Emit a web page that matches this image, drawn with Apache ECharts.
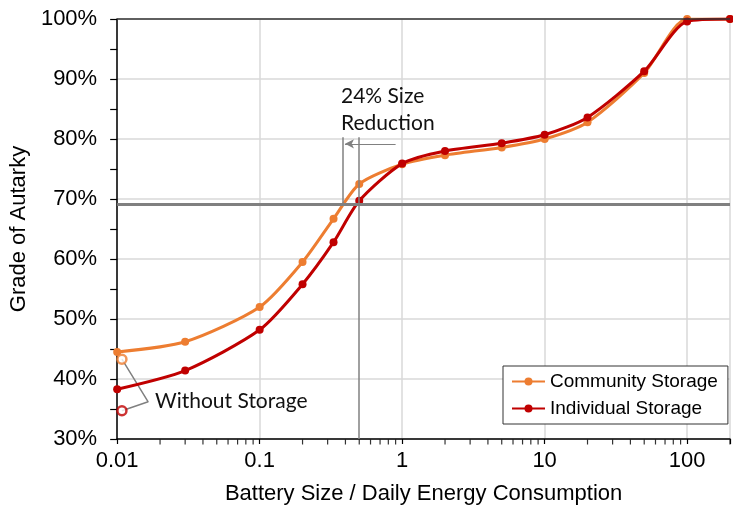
<!DOCTYPE html>
<html><head><meta charset="utf-8">
<script src="https://cdn.jsdelivr.net/npm/echarts@6/dist/echarts.min.js"></script>
<style>html,body{margin:0;padding:0;background:#fff}#c{width:733px;height:510px}</style>
</head><body><div id="c"></div>
<script>
// ---- data ----
const xValues = [0.01, 0.03, 0.1, 0.2, 0.33, 0.5, 1, 2, 5, 10, 20, 50, 100, 200];
const community = [44.5, 46.2, 52.0, 59.5, 66.7, 72.5, 75.8, 77.3, 78.6, 80.0, 82.8, 91.0, 100, 100];
const individual = [38.3, 41.4, 48.2, 55.8, 62.8, 69.7, 75.9, 78.0, 79.3, 80.7, 83.6, 91.3, 99.6, 100];
const withoutStorageX = 0.0108;
const withoutStorageCommunity = 43.3;
const withoutStorageIndividual = 34.7;
const xTickLabels = [0.01, 0.1, 1, 10, 100];
const xTickTexts = ['0.01', '0.1', '1', '10', '100'];
const yTickLabels = [30, 40, 50, 60, 70, 80, 90, 100];
const xMinorTicks = [0.02,0.03,0.04,0.05,0.06,0.07,0.08,0.09,0.2,0.3,0.4,0.5,0.6,0.7,0.8,0.9,2,3,4,5,6,7,8,9,20,30,40,50,60,70,80,90,200];
const targetAutarky = 69.2;
const individualSize = 0.5;
const communitySize = 0.38;
const bracketTop = 80.3;
const arrowY = 79.2;
const arrowFrom = 0.9;
const arrowTo = 0.397;
const leaderKnee = [0.0165, 36.2];

const COLORS = { community: '#ED7D31', individual: '#C00000', ref: '#808080' };

const chart = echarts.init(document.getElementById('c'), null, { renderer: 'canvas' });
const axisFont = '"Liberation Sans", Arial, sans-serif';

function xLabel(v) {
  for (let i = 0; i < xTickLabels.length; i++) {
    if (Math.abs(Math.log10(v) - Math.log10(xTickLabels[i])) < 1e-6) return xTickTexts[i];
  }
  return '';
}

chart.setOption({
  animation: false,
  backgroundColor: '#fff',
  grid: { left: 117, right: 0, top: 19, bottom: 71, containLabel: false },
  xAxis: {
    type: 'log', logBase: 10, min: 0.01, max: 200,
    name: 'Battery Size / Daily Energy Consumption',
    nameLocation: 'middle', nameGap: 44,
    nameTextStyle: { fontSize: 22, color: '#000', fontFamily: axisFont },
    axisLine: { show: true, onZero: false, lineStyle: { color: '#000', width: 1.5 } },
    axisTick: { show: true, length: 5, lineStyle: { color: '#000', width: 1.2 } },
    axisLabel: { fontSize: 22, color: '#000', fontFamily: axisFont, margin: 11, formatter: xLabel },
    splitLine: { show: true, lineStyle: { color: '#d9d9d9', width: 1.5 } },
    minorTick: { show: false }
  },
  yAxis: {
    type: 'value', min: yTickLabels[0], max: yTickLabels[yTickLabels.length - 1], interval: 10,
    name: 'Grade of Autarky', nameLocation: 'middle', nameGap: 82,
    nameTextStyle: { fontSize: 22, color: '#000', fontFamily: axisFont },
    axisLine: { show: true, lineStyle: { color: '#000', width: 1.5 } },
    axisTick: { show: true, length: 7, lineStyle: { color: '#000', width: 1.2 } },
    minorTick: { show: true, splitNumber: 2, length: 7, lineStyle: { color: '#000', width: 1.2 } },
    axisLabel: { fontSize: 22, color: '#000', fontFamily: axisFont, margin: 20, formatter: '{value}%' },
    splitLine: { show: true, lineStyle: { color: '#d9d9d9', width: 1.5 } }
  },
  legend: {
    data: ['Community Storage', 'Individual Storage'],
    orient: 'vertical', left: 503, top: 366,
    backgroundColor: '#fff', borderColor: '#333', borderWidth: 1, borderRadius: 0,
    padding: [6, 10, 6, 8], itemWidth: 33, itemHeight: 10, itemGap: 8,
    textStyle: { fontSize: 19, color: '#000', fontFamily: axisFont }
  },
  series: [
    {
      name: 'refLines', type: 'line', silent: true, z: 1,
      data: [[withoutStorageX, withoutStorageCommunity], leaderKnee, [withoutStorageX, withoutStorageIndividual]],
      symbol: 'none', lineStyle: { color: COLORS.ref, width: 1.5 },
      markLine: {
        silent: true, symbol: ['none', 'none'], animation: false,
        label: { show: false },
        data: [
          { yAxis: targetAutarky, lineStyle: { color: COLORS.ref, width: 3, type: 'solid' } },
          { yAxis: 100, lineStyle: { color: '#333', width: 1.5, type: 'solid' } },
          [{ coord: [individualSize, bracketTop], lineStyle: { color: COLORS.ref, width: 1.5, type: 'solid' } }, { coord: [individualSize, yTickLabels[0]] }],
          [{ coord: [communitySize, bracketTop], lineStyle: { color: COLORS.ref, width: 1.5, type: 'solid' } }, { coord: [communitySize, targetAutarky] }],
          [{ coord: [arrowTo, arrowY], symbol: 'arrow', symbolSize: [7, 9], lineStyle: { color: COLORS.ref, width: 1.2, type: 'solid' } }, { coord: [arrowFrom, arrowY], symbol: 'none' }]
        ]
      }
    },
    {
      name: 'Community Storage', type: 'line', z: 3,
      data: xValues.map((x, i) => [x, community[i]]),
      smooth: 0.25, symbol: 'circle', symbolSize: 8,
      lineStyle: { color: COLORS.community, width: 3 },
      itemStyle: { color: COLORS.community }
    },
    {
      name: 'Individual Storage', type: 'line', z: 4,
      data: xValues.map((x, i) => [x, individual[i]]),
      smooth: 0.25, symbol: 'circle', symbolSize: 8,
      lineStyle: { color: COLORS.individual, width: 3 },
      itemStyle: { color: COLORS.individual }
    },
    {
      name: 'withoutStorage', type: 'scatter', z: 5, silent: true,
      symbol: 'circle', symbolSize: 9,
      data: [
        { value: [withoutStorageX, withoutStorageCommunity], itemStyle: { color: '#fff', borderColor: COLORS.community, borderWidth: 2.5 } },
        { value: [withoutStorageX, withoutStorageIndividual], itemStyle: { color: '#fff', borderColor: COLORS.individual, borderWidth: 2.5 } }
      ]
    },
    {
      name: 'xMinorTicks', type: 'scatter', z: 6, silent: true, clip: false,
      symbol: 'rect', symbolSize: [1.2, 5], symbolOffset: [0, 3],
      itemStyle: { color: '#000' },
      data: xMinorTicks.map(v => [v, yTickLabels[0]])
    }
  ],
  graphic: [
    { type: 'text', left: 341, top: 83, z: 10,
      style: { text: '24% Size\nReduction', font: '21px Lato, "Open Sans", sans-serif', lineHeight: 27, fill: '#111' } },
    { type: 'text', left: 155, top: 391, z: 10,
      style: { text: 'Without Storage', font: '21px Lato, "Open Sans", sans-serif', fill: '#111' } }
  ]
});
</script>
</body></html>
